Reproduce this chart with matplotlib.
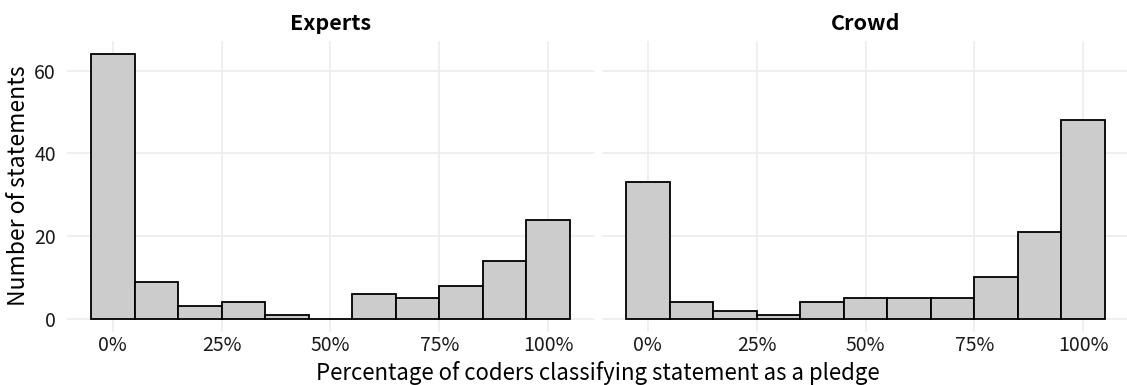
import numpy as np
import matplotlib
matplotlib.use('Agg')
import matplotlib.pyplot as plt
from matplotlib.ticker import FuncFormatter

plt.rcParams['font.family'] = ['Noto Sans CJK SC', 'DejaVu Sans']

# bin centres (share of coders) and counts per panel
bins = [0.0, 0.1, 0.2, 0.3, 0.4, 0.5, 0.6, 0.7, 0.8, 0.9, 1.0]
experts = [64, 9, 3, 4, 1, 0, 6, 5, 8, 14, 24]
crowd = [33, 4, 2, 1, 4, 5, 5, 5, 10, 21, 48]
panels = ['Experts', 'Crowd']
x_ticks = [0, 0.25, 0.5, 0.75, 1.0]
y_ticks = [0, 20, 40, 60]

W, H = 1127, 385
fig = plt.figure(figsize=(W / 100, H / 100), dpi=100)

def frac(x0, x1, ytop, ybot):
    return [x0 / W, 1 - ybot / H, (x1 - x0) / W, (ybot - ytop) / H]

ax1 = fig.add_axes(frac(67, 594, 41, 332))
ax2 = fig.add_axes(frac(602, 1129, 41, 332))

ymax = max(max(experts), max(crowd))
for ax, counts, name in [(ax1, experts, panels[0]), (ax2, crowd, panels[1])]:
    ax.bar(bins, counts, width=0.1, color='#CCCCCC', edgecolor='black',
           linewidth=1.3, zorder=3)
    ax.set_xlim(-0.105, 1.105)
    ax.set_ylim(-0.05 * ymax, 1.05 * ymax)
    ax.set_xticks(x_ticks)
    ax.set_yticks(y_ticks)
    ax.xaxis.set_major_formatter(FuncFormatter(lambda v, p: f'{v * 100:.0f}%'))
    ax.grid(True, color='#EBEBEB', linewidth=1.1, zorder=0)
    for s in ax.spines.values():
        s.set_visible(False)
    ax.tick_params(length=0, labelsize=14, colors='#1a1a1a')
    ax.tick_params(axis='x', pad=2)
    ax.tick_params(axis='y', pad=8)
    ax.set_title(name, fontsize=15.5, fontweight='bold', pad=8)

ax2.tick_params(labelleft=False)

fig.text(598 / W, 1 - 373 / H, 'Percentage of coders classifying statement as a pledge',
         ha='center', va='center', fontsize=16)
fig.text(19 / W, 1 - 186 / H, 'Number of statements', rotation=90,
         ha='center', va='center', fontsize=16.5)

fig.savefig('out.png', dpi=100, facecolor='white')
